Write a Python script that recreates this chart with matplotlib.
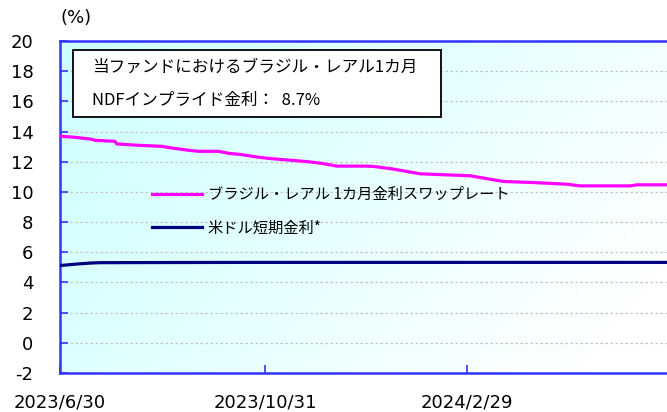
import numpy as np
import pandas as pd
import matplotlib
matplotlib.use("Agg")
import matplotlib.pyplot as plt
from matplotlib.patches import Rectangle

# ---- data ----
start = pd.Timestamp("2023-06-30")
brl_days = [0, 9, 19, 21, 33, 34, 47, 61, 67, 77, 83, 95, 101, 109, 117, 125, 137, 149,
            157, 166, 183, 188, 200, 216, 246, 260, 266, 284, 304, 312, 342, 346, 364]
brl_values = [13.69, 13.62, 13.49, 13.42, 13.35, 13.18, 13.09, 13.02, 12.91, 12.76, 12.69,
              12.69, 12.56, 12.47, 12.33, 12.22, 12.11, 12.0, 11.89, 11.71, 11.71, 11.69,
              11.51, 11.2, 11.07, 10.8, 10.69, 10.62, 10.51, 10.4, 10.4, 10.47, 10.47]
usd_days = [0, 10, 19, 24, 60, 120, 180, 240, 300, 364]
usd_values = [5.12, 5.22, 5.29, 5.31, 5.32, 5.33, 5.33, 5.33, 5.33, 5.33]

brl_dates = [start + pd.Timedelta(days=d) for d in brl_days]
usd_dates = [start + pd.Timedelta(days=d) for d in usd_days]

series_labels = ["ブラジル・レアル 1カ月金利スワップレート", "米ドル短期金利*"]
xtick_dates = ["2023-06-30", "2023-10-31", "2024-02-29"]
xtick_labels = ["2023/6/30", "2023/10/31", "2024/2/29"]
yticks = list(range(-2, 21, 2))
box_lines = ["当ファンドにおけるブラジル・レアル1カ月", "NDFインプライド金利：  8.7%"]

jp = ["Noto Sans CJK JP", "DejaVu Sans"]

fig = plt.figure(figsize=(6.67, 4.12), dpi=100)
ax = fig.add_axes([60 / 667, 1 - 373 / 412, 1 - 60 / 667 + 0.01, 332 / 412])

# gradient background
nx, ny = 200, 120
xx, yy = np.meshgrid(np.linspace(0, 1, nx), np.linspace(1, 0, ny))
t = np.clip((xx * 0.75 + (1 - yy) * 0.35), 0, 1)
c0 = np.array([204, 255, 255]) / 255
c1 = np.array([255, 255, 255]) / 255
img = c0[None, None, :] * (1 - t[..., None]) + c1[None, None, :] * t[..., None]
ax.imshow(img, extent=[0, 1, 0, 1], transform=ax.transAxes, aspect="auto", zorder=0)

ax.set_ylim(-2, 20)
ax.set_xlim(pd.Timestamp("2023-06-30"), pd.Timestamp("2024-06-28") + pd.Timedelta(days=4))

for y in yticks[1:-1]:
    ax.axhline(y, color="#c4c4c4", lw=0.9, ls=(0, (2, 2)), zorder=1)

l1, = ax.plot(brl_dates, brl_values, color="#FF00FF", lw=2.3, zorder=3, label=series_labels[0])
l2, = ax.plot(usd_dates, usd_values, color="#000080", lw=2.3, zorder=3, label=series_labels[1])

ax.set_yticks(yticks)
ax.set_yticklabels([str(v) for v in yticks], fontsize=13, family="DejaVu Sans")
ax.set_xticks([pd.Timestamp(d) for d in xtick_dates])
ax.set_xticklabels(xtick_labels, fontsize=13, family="DejaVu Sans")
ax.tick_params(axis="y", direction="in", length=6, width=1.2, color="#3333FF", pad=19)
ax.tick_params(axis="x", direction="in", length=6, width=1.2, color="#3333FF", pad=15)

for s in ["left", "bottom", "top"]:
    ax.spines[s].set_color("#3333FF")
    ax.spines[s].set_linewidth(1.8)
ax.spines["right"].set_visible(False)

# annotation box
ax.add_patch(Rectangle((13 / 607, (373 - 117) / 332), 364 / 607, 67 / 332,
                       transform=ax.transAxes, facecolor="white", edgecolor="black",
                       lw=1.3, zorder=4))
ax.text(32 / 607, (373 - 67) / 332, box_lines[0], transform=ax.transAxes, fontsize=12,
        family=jp, va="center", ha="left", zorder=5)
ax.text(32 / 607, (373 - 100) / 332, box_lines[1], transform=ax.transAxes, fontsize=12,
        family=jp, va="center", ha="left", zorder=5)

leg = ax.legend(handles=[l1, l2], loc="upper left", bbox_to_anchor=(91 / 607, (373 - 186) / 332),
                frameon=False, prop={"family": jp, "size": 11}, handlelength=3.3,
                handletextpad=0.35, labelspacing=1.1, borderaxespad=0, borderpad=0)
leg.set_zorder(5)

fig.text(60 / 667, 1 - 18 / 412, "(%)", fontsize=13, family="DejaVu Sans", ha="left", va="center")

fig.savefig("out.png", dpi=100)
